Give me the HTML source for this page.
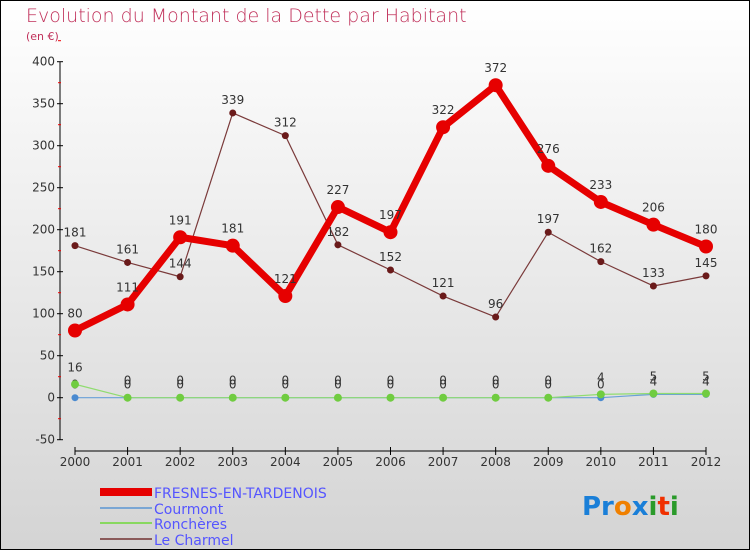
<!DOCTYPE html>
<html><head><meta charset="utf-8"><style>
html,body{margin:0;padding:0}
body{width:750px;height:550px;overflow:hidden;font-family:"DejaVu Sans","Liberation Sans",sans-serif}
</style></head><body>
<svg id="chart" width="750" height="550" viewBox="0 0 750 550" xmlns="http://www.w3.org/2000/svg">
<defs><linearGradient id="bg" x1="0" y1="0" x2="0" y2="1"><stop offset="0" stop-color="#ffffff"/><stop offset="1" stop-color="#d4d4d4"/></linearGradient></defs>
<rect x="0.5" y="0.5" width="749" height="549" fill="url(#bg)" stroke="#000"/>
<text x="26" y="22" font-size="19" fill="#c0305a" font-weight="300">Evolution du Montant de la Dette par Habitant</text>
<text x="26" y="40" font-size="11" fill="#c0305a">(en €)</text>
<g id="axes"></g><g id="series"></g>
<g font-size="14" fill="#5555ff">
<rect x="100" y="488" width="52" height="8" fill="#e60000"/><text x="154" y="498">FRESNES-EN-TARDENOIS</text>
<line x1="100" y1="508" x2="152" y2="508" stroke="#7aa6d4" stroke-width="2"/><text x="154" y="514">Courmont</text>
<line x1="100" y1="523" x2="152" y2="523" stroke="#88d860" stroke-width="2"/><text x="154" y="529">Ronchères</text>
<line x1="100" y1="539" x2="152" y2="539" stroke="#8a5a5a" stroke-width="2"/><text x="154" y="545">Le Charmel</text>
</g>
<text x="582" y="515" font-size="26" font-weight="bold"><tspan fill="#1a7fd8">Pr</tspan><tspan fill="#f08000">o</tspan><tspan fill="#1a7fd8">x</tspan><tspan fill="#2a9a2a">i</tspan><tspan fill="#f03000">t</tspan><tspan fill="#2a9a2a">i</tspan></text>
</svg>
<script>
const years=[2000,2001,2002,2003,2004,2005,2006,2007,2008,2009,2010,2011,2012];
const yTicks=[-50,0,50,100,150,200,250,300,350,400];
const fresnes=[80,111,191,181,121,227,197,322,372,276,233,206,180];
const charmel=[181,161,144,339,312,182,152,121,96,197,162,133,145];
const courmont=[0,0,0,0,0,0,0,0,0,0,0,4,4];
const roncheres=[16,0,0,0,0,0,0,0,0,0,4,5,5];
const NS="http://www.w3.org/2000/svg";
const xS=i=>75+i*(706-75)/(years.length-1);
const yS=v=>397.7-v*0.84;
function mk(tag,attrs,parent){const e=document.createElementNS(NS,tag);for(const k in attrs)e.setAttribute(k,attrs[k]);parent.appendChild(e);return e;}
const ax=document.getElementById('axes');
const yAxis=mk('line',{x1:60,y1:yS(400),x2:60,y2:yS(-50),stroke:'#000'},ax);


yTicks.forEach(v=>{
 mk('line',{x1:57,y1:yS(v),x2:63,y2:yS(v),stroke:'#000'},ax);
 mk('line',{x1:58,y1:yS(v+25),x2:61,y2:yS(v+25),stroke:'#e00'},ax);
 const t=mk('text',{x:55,y:yS(v)+4,'font-size':12,'text-anchor':'end',fill:'#333'},ax);t.textContent=v;
 
 
});
const xAxis=mk('line',{x1:75,y1:451,x2:706,y2:451,stroke:'#000'},ax);


years.forEach((y,i)=>{
 mk('line',{x1:xS(i),y1:447,x2:xS(i),y2:455,stroke:'#000'},ax);
 const t=mk('text',{x:xS(i),y:466,'font-size':12,'text-anchor':'middle',fill:'#333'},ax);t.textContent=y;
 
 
});
const sg=document.getElementById('series');
function series(name,vals,color,w,r,dot,labels,dy){
 const g=mk('g',{},sg);
 
 
 mk('polyline',{points:vals.map((v,i)=>xS(i)+','+yS(v)).join(' '),fill:'none',stroke:color,'stroke-width':w,'stroke-linejoin':'round'},g);
 vals.forEach((v,i)=>{
  const c=mk('circle',{cx:xS(i),cy:yS(v),r:r,fill:dot},g);
  
  
  if(labels){const t=mk('text',{x:xS(i),y:yS(v)+dy,'font-size':12,'text-anchor':'middle',fill:'#333'},g);t.textContent=v;
  
  }
 });
}
series('le-charmel-series',charmel,'#7a3a3a',1.2,3.5,'#6a1a1a',true,-9);
series('courmont-series',courmont,'#6aa0d8',1.2,3.5,'#4a8ad0',true,-9);
series('roncheres-series',roncheres,'#90dc70',1.2,4,'#70cc40',true,-13);
series('fresnes-series',fresnes,'#e60000',7,7,'#e60000',true,-13);
</script>
</body></html>
